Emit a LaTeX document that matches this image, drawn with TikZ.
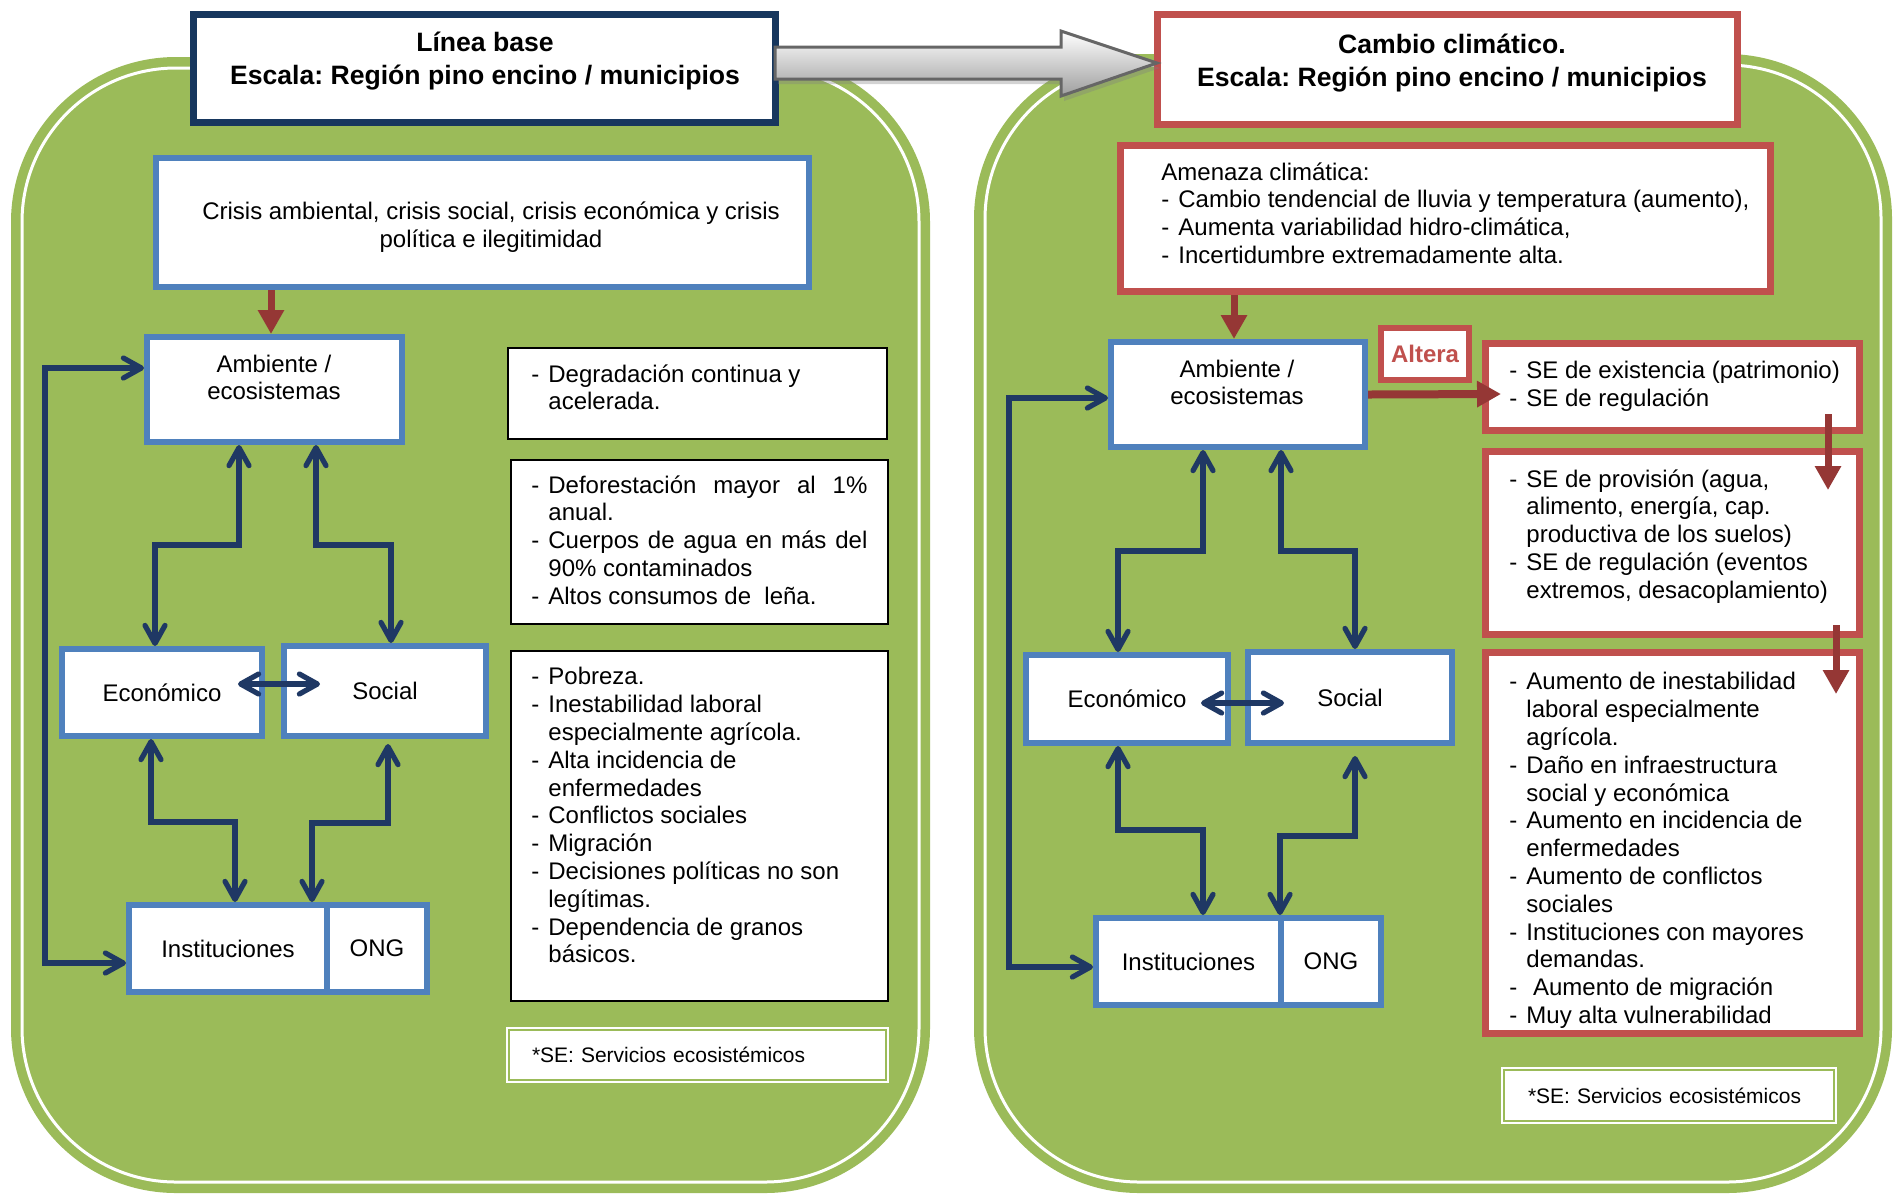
\documentclass[tikz,border=0pt]{standalone}
\usepackage{fontspec}
\setmainfont{Liberation Sans}
\usetikzlibrary{arrows.meta,calc,shadows}
\definecolor{grn}{HTML}{9BBB59}
\definecolor{navy}{HTML}{1F3864}
\definecolor{ttlnavy}{HTML}{17375E}
\definecolor{blueb}{HTML}{4F81BD}
\definecolor{redb}{HTML}{C0504D}
\definecolor{dred}{HTML}{953735}
\newcommand{\lidash}{\makebox[8.5pt][l]{-}}
\newcommand{\liind}{\hspace*{8.5pt}}
\frenchspacing
\begin{document}
\begin{tikzpicture}[x=0.5pt,y=-0.5pt,>={Straight Barb[length=9pt,width=10pt,round]},
    every node/.style={font=\fontsize{12}{13.9}\selectfont, inner sep=0pt},
    ttlbox/.style={draw, fill=white, line width=3.5pt},
    bbox/.style={draw=blueb, fill=white, line width=3pt},
    rbox/.style={draw=redb, fill=white, line width=3.5pt},
    lbox/.style={draw=black, fill=white, line width=0.6pt},
    notebox/.style={draw=white, double=grn, double distance=1pt, line width=1pt, fill=white, align=left, font=\fontsize{10.5}{12}\selectfont},
    ttl/.style={align=center, font=\fontsize{13.3}{16.5}\selectfont\bfseries},
    lst/.style={align=left, anchor=north west},
    conn/.style={draw=navy, line width=2.6pt},
    redarr/.style={draw=dred, line width=3.5pt, -{Triangle[length=12pt,width=12.5pt]}},
    bigarr/.style={top color=white, bottom color=black!38, draw=black!60, line width=1.5pt, drop shadow={shadow xshift=1.5pt, shadow yshift=-2.5pt, opacity=.35}}]
    \useasboundingbox (0,0) rectangle (1893,1196);

    \fill[grn, rounded corners=82.5pt] (11,57) rectangle (930,1193);
    \draw[white, line width=1.5pt, rounded corners=77pt] (22,68) rectangle (919,1182);
    \fill[grn, rounded corners=82.5pt] (974,54) rectangle (1892,1193);
    \draw[white, line width=1.5pt, rounded corners=77pt] (985,65) rectangle (1881,1182);

    % linea base
    \node[ttlbox, draw=ttlnavy, minimum width=291pt, minimum height=54pt] (base) at (484.5,68.5) {};
    \node[ttl] (basetxt) at (485,61) {Línea base\\Escala: Región pino encino / municipios};
    \node[bbox, minimum width=326.5pt, minimum height=64.5pt] (crisis) at (482.5,222.5) {};
    \node[align=center] (crisistxt) at (491,227) {Crisis ambiental, crisis social, crisis económica y crisis\\política e ilegitimidad};
    \node[bbox, minimum width=127.5pt, minimum height=52.5pt] (amb) at (274.5,389.5) {};
    \node[align=center] (ambtxt) at (274,377.5) {Ambiente /\\ecosistemas};
    \node[bbox, minimum width=100pt, minimum height=43.5pt] (eco) at (162,692.5) {Económico};
    \node[bbox, minimum width=101pt, minimum height=45pt] (soc) at (385,691) {Social};
    \node[bbox, minimum width=99pt, minimum height=43.5pt] (inst) at (228,948.5) {Instituciones};
    \node[bbox, minimum width=50pt, minimum height=43.5pt] (ong) at (377,948.5) {ONG};

    \node[lbox, minimum width=189.5pt, minimum height=45.5pt] (degr) at (697.5,393.5) {};
    \node[lst] (degrtxt) at (531,364) {\lidash Degradación continua y\\ \liind acelerada.};
    \node[lbox, minimum width=188.5pt, minimum height=82pt] (defo) at (699.5,542) {};
    \node[lst] (defotxt) at (531,475) {\lidash\makebox[159.5pt][s]{Deforestación mayor al 1\%}\\ \liind anual.\\
        \lidash\makebox[159.5pt][s]{Cuerpos de agua en más del}\\ \liind 90\% contaminados\\
        \lidash Altos consumos de\ \ leña.};
    \node[lbox, minimum width=188.5pt, minimum height=175pt] (pobr) at (699.5,826) {};
    \node[lst] (pobrtxt) at (531,667) {\lidash Pobreza.\\ \lidash Inestabilidad laboral\\ \liind especialmente agrícola.\\
        \lidash Alta incidencia de\\ \liind enfermedades\\ \lidash Conflictos sociales\\ \lidash Migración\\
        \lidash Decisiones políticas no son\\ \liind legítimas.\\ \lidash Dependencia de granos\\ \liind básicos.};
    \node[notebox, text width=165.5pt, inner xsep=11.5pt, minimum height=25pt] (notel) at (697.5,1055) {*SE: Servicios ecosistémicos};

    % cambio climatico
    \node[ttlbox, draw=redb, minimum width=290pt, minimum height=55pt] (cc) at (1447.5,69.5) {};
    \node[ttl] (cctxt) at (1452,63) {Cambio climático.\\Escala: Región pino encino / municipios};
    \node[rbox, minimum width=325pt, minimum height=73pt] (amen) at (1445.5,218.5) {};
    \node[lst] (amentxt) at (1161,162) {Amenaza climática:\\ \lidash Cambio tendencial de lluvia y temperatura (aumento),\\
        \lidash Aumenta variabilidad hidro-climática,\\ \lidash Incertidumbre extremadamente alta.};
    \node[bbox, minimum width=127pt, minimum height=52.5pt] (ambr) at (1238,394.5) {};
    \node[align=center] (ambrtxt) at (1237,382.5) {Ambiente /\\ecosistemas};
    \node[rbox, line width=3pt, minimum width=44pt, minimum height=26pt, text=redb, font=\fontsize{12}{13.9}\selectfont\bfseries] (altera) at (1425,354) {Altera};
    \node[rbox, minimum width=187pt, minimum height=43.5pt] (seex) at (1672.5,387) {};
    \node[lst] (seextxt) at (1509,361) {\lidash SE de existencia (patrimonio)\\ \lidash SE de regulación};
    \node[rbox, minimum width=187pt, minimum height=91.5pt] (seprov) at (1672.5,543) {};
    \node[lst] (seprovtxt) at (1509,469) {\lidash SE de provisión (agua,\\ \liind alimento, energía, cap.\\ \liind productiva de los suelos)\\
        \lidash SE de regulación (eventos\\ \liind extremos, desacoplamiento)};
    \node[rbox, minimum width=187pt, minimum height=190.5pt] (aum) at (1672.5,843) {};
    \node[lst] (aumtxt) at (1509,672) {\lidash Aumento de inestabilidad\\ \liind laboral especialmente\\ \liind agrícola.\\
        \lidash Daño en infraestructura\\ \liind social y económica\\ \lidash Aumento en incidencia de\\ \liind enfermedades\\
        \lidash Aumento de conflictos\\ \liind sociales\\ \lidash Instituciones con mayores\\ \liind demandas.\\
        \lidash\ Aumento de migración\\ \lidash Muy alta vulnerabilidad};
    \node[notebox, text width=141pt, inner xsep=12pt, minimum height=25.5pt] (noter) at (1669,1095.5) {*SE: Servicios ecosistémicos};
    \node[bbox, minimum width=101pt, minimum height=44pt] (ecor) at (1127,699) {Económico};
    \node[bbox, minimum width=102pt, minimum height=45.5pt] (socr) at (1350,697.5) {Social};
    \node[bbox, minimum width=92.5pt, minimum height=43.5pt] (instr) at (1188.5,961.5) {Instituciones};
    \node[bbox, minimum width=50pt, minimum height=43.5pt] (ongr) at (1331,961.5) {ONG};

    \path[bigarr] ($(base.east)+(-4,-21.5)$) -- ++(286,0) -- ++(0,-16) -- ($(cc.west)+(3,-6.5)$)
        -- ++(-96,33) -- ++(0,-17) -- ++(-286,0) -- cycle;

    \draw[conn,<->] ($(amb.west)+(0,-21.5)$) -- ++(-99,0) |- ($(inst.west)+(0,14.5)$);
    \draw[conn,<->] ($(amb.south)+(-35.5,0)$) -- ++(0,100) -| ($(eco.north)+(-7,0)$);
    \draw[conn,<->] ($(amb.south)+(41.5,0)$) -- ++(0,100) -| ($(soc.north)+(6,0)$);
    \draw[conn,<->] ($(eco.south)+(-11,0)$) -- ++(0,83) -| ($(inst.north)+(7,0)$);
    \draw[conn,<->] ($(soc.south)+(3,5)$) -- ++(0,79) -| ($(inst.north)+(84,0)$);
    \draw[conn,<->] ($(eco.east)+(-27,-8.5)$) -- ($(soc.west)+(39,-7)$);

    \draw[conn,<->] ($(ambr.west)+(0,3.5)$) -- ++(-99,0) |- ($(instr.west)+(0,5.5)$);
    \draw[conn,<->] ($(ambr.south)+(-35,0)$) -- ++(0,101) -| ($(ecor.north)+(-9,0)$);
    \draw[conn,<->] ($(ambr.south)+(43,0)$) -- ++(0,101) -| ($(socr.north)+(5,0)$);
    \draw[conn,<->] ($(ecor.south)+(-9,0)$) -- ++(0,84) -| ($(instr.north)+(14.5,0)$);
    \draw[conn,<->] ($(socr.south)+(5,10)$) -- ++(0,80) -| ($(instr.north)+(91.5,0)$);
    \draw[conn,<->] ($(ecor.east)+(-30,4)$) -- ($(socr.west)+(39,5.5)$);

    \draw[redarr] ($(crisis.south)+(-211.5,0)$) -- ($(amb.north)+(-3.5,0)$);
    \draw[redarr] ($(amen.south)+(-211.5,0)$) -- ($(ambr.north)+(-4,0)$);
    \draw[redarr, line width=4pt] (ambr.east) -- ($(seex.west)+(19,7)$);
    \draw[redarr] ($(seex.south)+(155.5,-20)$) -- ($(seprov.north)+(155.5,42)$);
    \draw[redarr] ($(seprov.south)+(163.5,-13)$) -- ($(aum.north)+(163.5,45)$);
\end{tikzpicture}
\end{document}
